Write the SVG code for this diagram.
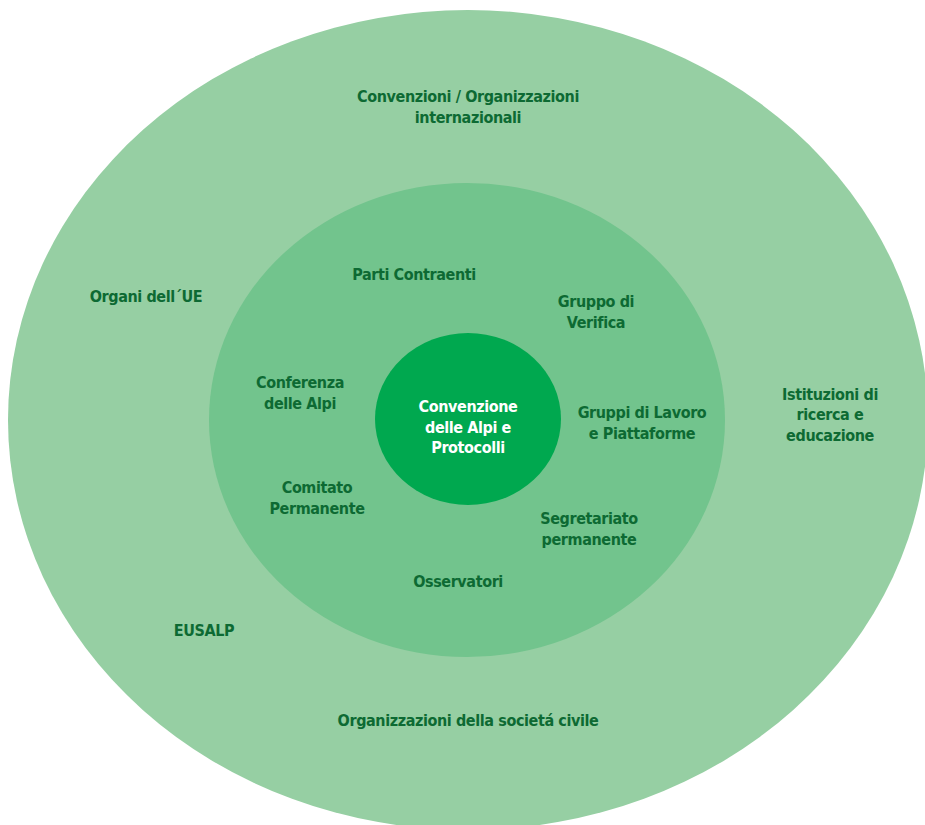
<svg xmlns="http://www.w3.org/2000/svg" width="925" height="825" viewBox="0 0 925 825">
<style>
.t{font-family:"DejaVu Sans Condensed","Liberation Sans",sans-serif;font-weight:bold;font-size:16px;letter-spacing:-0.4px;fill:#0d6a33;text-anchor:middle}
.w{fill:#ffffff}
</style>
<rect x="0" y="0" width="925" height="825" fill="#ffffff"/>
<g id="outer">
<ellipse cx="468" cy="420" rx="460" ry="410" fill="#96cfa3"/>
<text class="t" x="468" y="102">Convenzioni / Organizzazioni</text>
<text class="t" x="468" y="123">internazionali</text>
<text class="t" x="146" y="302">Organi dell´UE</text>
<text class="t" x="830" y="400">Istituzioni di</text>
<text class="t" x="830" y="420">ricerca e</text>
<text class="t" x="830" y="441">educazione</text>
<text class="t" x="204" y="636">EUSALP</text>
<text class="t" x="468" y="726">Organizzazioni della societá civile</text>
</g>
<g id="middle">
<ellipse cx="467" cy="420" rx="258" ry="237" fill="#72c48d"/>
<text class="t" x="414" y="280">Parti Contraenti</text>
<text class="t" x="596" y="307">Gruppo di</text>
<text class="t" x="596" y="328">Verifica</text>
<text class="t" x="300" y="388">Conferenza</text>
<text class="t" x="300" y="409">delle Alpi</text>
<text class="t" x="642" y="418">Gruppi di Lavoro</text>
<text class="t" x="642" y="439">e Piattaforme</text>
<text class="t" x="317" y="493">Comitato</text>
<text class="t" x="317" y="514">Permanente</text>
<text class="t" x="589" y="524">Segretariato</text>
<text class="t" x="589" y="545">permanente</text>
<text class="t" x="458" y="587">Osservatori</text>
</g>
<g id="center">
<ellipse cx="468" cy="419" rx="93" ry="86" fill="#00a84f"/>
<text class="t w" x="468" y="412">Convenzione</text>
<text class="t w" x="468" y="433">delle Alpi e</text>
<text class="t w" x="468" y="453">Protocolli</text>
</g>
<g id="connectors"/>
</svg>
